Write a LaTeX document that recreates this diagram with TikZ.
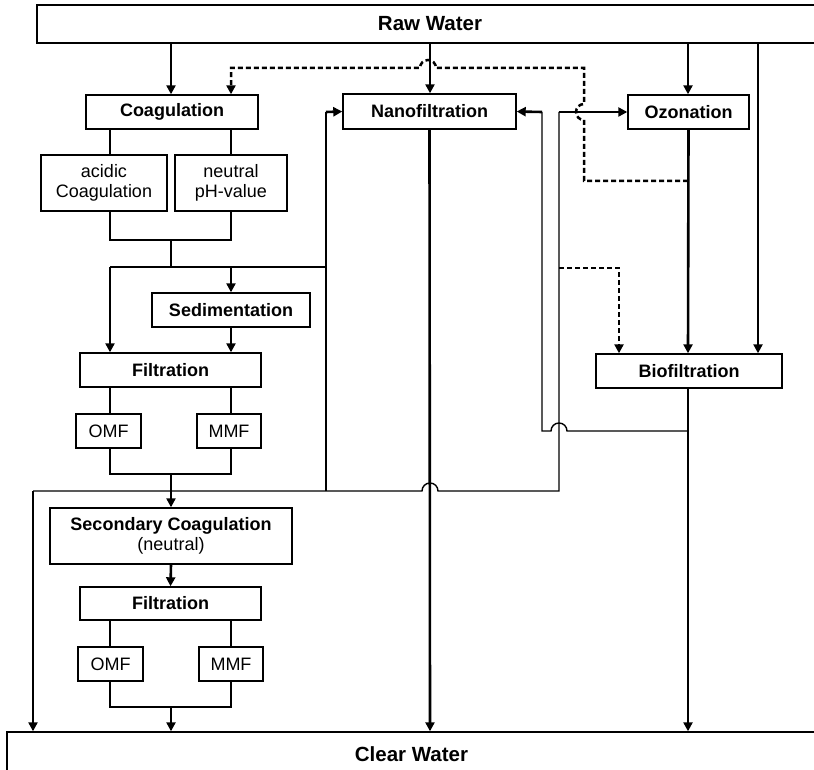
\documentclass[tikz,border=0pt]{standalone}
\usepackage{fontspec}
\setmainfont{Liberation Sans}
\usetikzlibrary{arrows.meta}
\begin{document}
\begin{tikzpicture}[x=1pt,y=-1pt,
  box/.style={draw, line width=1.4pt, inner sep=0pt, align=center, font=\fontsize{18}{20}\selectfont},
  bbox/.style={box, font=\fontsize{18}{20}\selectfont\bfseries},
  big/.style={box, font=\fontsize{20.5}{22}\selectfont\bfseries},
  conn/.style={line width=1.4pt},
  flow/.style={line width=2.6pt},
  tip/.style={-{Triangle[length=9pt,width=9pt]}},
  arr/.style={flow, tip},
  dline/.style={line width=2.5pt, dash pattern=on 5pt off 3pt, tip}]
\clip (0,0) rectangle (814,770);
\fill[white] (0,0) rectangle (814,770);
% nodes
\node[big, minimum width=786pt, minimum height=38pt] (raw) at (430,24) {Raw Water};
\node[big, minimum width=809pt, minimum height=44pt] (clear) at (411.5,754) {Clear Water};
\node[bbox, minimum width=172pt, minimum height=34pt] (coag) at (172,112) {Coagulation};
\node[box, minimum width=126pt, minimum height=56pt] (acid) at (104,183) {acidic\\Coagulation};
\node[box, minimum width=112pt, minimum height=56pt] (neut) at (231,183) {neutral\\pH-value};
\node[bbox, minimum width=158pt, minimum height=34pt] (sed) at (231,310) {Sedimentation};
\node[bbox, minimum width=181pt, minimum height=34pt] (filt1) at (170.5,370) {Filtration};
\node[box, minimum width=65pt, minimum height=34pt] (omf1) at (108.5,431) {OMF};
\node[box, minimum width=64pt, minimum height=34pt] (mmf1) at (229,431) {MMF};
\node[box, minimum width=242pt, minimum height=56pt] (sec) at (171,536) {\textbf{Secondary Coagulation}\\(neutral)};
\node[bbox, minimum width=181pt, minimum height=33pt] (filt2) at (170.5,603.5) {Filtration};
\node[box, minimum width=65pt, minimum height=34pt] (omf2) at (110.5,664) {OMF};
\node[box, minimum width=64pt, minimum height=34pt] (mmf2) at (231,664) {MMF};
\node[bbox, minimum width=173pt, minimum height=35pt] (nano) at (429.5,111.5) {Nanofiltration};
\node[bbox, minimum width=121pt, minimum height=34pt] (oz) at (688.5,112) {Ozonation};
\node[bbox, minimum width=186pt, minimum height=34pt] (bio) at (689,371) {Biofiltration};
% junction coordinates
\coordinate (jc) at (171,267);
\coordinate (jf) at (171,491);
% raw water arrows
\draw[arr] (171,0 |- raw.south) -- (171,0 |- coag.north);
\draw[arr] (430,0 |- raw.south) -- (430,0 |- nano.north);
\draw[arr] (688,0 |- raw.south) -- (688,0 |- oz.north);
\draw[arr] (758,0 |- raw.south) -- (758,0 |- bio.north);
% coagulation branch
\draw[conn] (110,0 |- coag.south) -- (110,0 |- acid.north);
\draw[conn] (231,0 |- coag.south) -- (231,0 |- neut.north);
\draw[conn] (110,0 |- acid.south) -- (110,240) -- (231,240) -- (231,0 |- neut.south);
\draw[conn] (171,240) -- (jc);
\draw[conn] (110,267) -- (326,267);
\draw[arr] (110,267) -- (110,0 |- filt1.north);
\draw[arr] (231,267) -- (sed.north);
\draw[arr] (sed.south) -- (231,0 |- filt1.north);
% filtration 1
\draw[conn] (110,0 |- filt1.south) -- (110,0 |- omf1.north);
\draw[conn] (231,0 |- filt1.south) -- (231,0 |- mmf1.north);
\draw[conn] (110,0 |- omf1.south) -- (110,474) -- (231,474) -- (231,0 |- mmf1.south);
\draw[arr] (171,474) -- (sec.north);
\draw[arr] (sec.south) -- (filt2.north);
% filtration 2
\draw[conn] (110,0 |- filt2.south) -- (110,0 |- omf2.north);
\draw[conn] (231,0 |- filt2.south) -- (231,0 |- mmf2.north);
\draw[conn] (110,0 |- omf2.south) -- (110,707) -- (231,707) -- (231,0 |- mmf2.south);
\draw[arr] (171,707) -- (171,0 |- clear.north);
% bypass lines
\draw[arr] (33,491) -- (33,0 |- clear.north);
\draw[conn] (33,491) -- (422,491) arc[start angle=180, end angle=0, radius=8pt] -- (559,491) -- (559,112);
\draw[arr] (559,112) -- (oz.west);
\draw[conn] (326,491) -- (326,112);
\draw[arr] (326,112) -- (nano.west);
\draw[conn] (688,431) -- (567,431) arc[start angle=0, end angle=180, radius=8pt] -- (542,431) -- (542,112);
\draw[arr] (542,112) -- (nano.east);
% outputs
\draw[arr] (nano.south) -- (430,0 |- clear.north);
\draw[arr] (oz.south) -- (688,0 |- bio.north);
\draw[arr] (688,0 |- bio.south) -- (688,0 |- clear.north);
% dashed
\draw[dline] (688,181) -- (584,181) -- (584,120) arc[start angle=270, end angle=90, radius=8pt] -- (584,68) -- (436,68) arc[start angle=0, end angle=180, radius=8pt] -- (231,68) -- (231,0 |- coag.north);
\draw[dline] (559,268) -- (619,268) -- (619,0 |- bio.north);
\end{tikzpicture}
\end{document}
